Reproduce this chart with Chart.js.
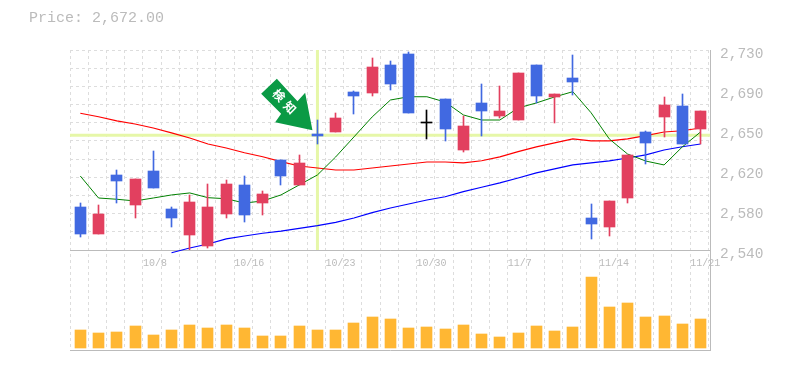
<!DOCTYPE html>
<html>
<head>
<meta charset="utf-8">
<style>html,body{margin:0;padding:0;background:#fff}#w{width:785px;height:370px;position:relative}</style>
<script src="https://cdn.jsdelivr.net/npm/chart.js@4"></script>
</head>
<body>
<div id="w"><canvas id="c" width="785" height="370"></canvas></div>
<script>
const priceText = 'Price: 2,672.00';
const markerText = ['検', '知'];
const markerIndex = 13;
const markerPrice = 2649;

const categories = ['','','','','10/8','','','','','10/16','','','','','10/23','','','','','10/30','','','','','11/7','','','','','11/14','','','','','11/21'];
const opens  = [2580.9,2555.2,2611.3,2582.8,2615,2579,2554.3,2543.8,2574.2,2601.8,2584.6,2625.5,2601.8,2650.2,2652.1,2690.1,2689.2,2715.8,2726.2,2660.4,2683.5,2635,2679.7,2667.3,2663.5,2715.8,2685.4,2703.4,2570.4,2561.9,2589.4,2652.1,2666.4,2676.8,2655];
const highs  = [2584.6,2582.8,2616,2607.5,2634,2580.9,2592.3,2602.7,2606.5,2610.3,2596,2625.5,2630.3,2663.5,2670.2,2691,2722.4,2719.6,2728.1,2673,2683.5,2667.3,2697.7,2695.8,2708.2,2715.8,2688.2,2725.3,2583.7,2586.6,2630.3,2653,2685.4,2688.2,2672];
const lows   = [2552.6,2555.2,2585,2570.4,2598.9,2561.9,2540,2541.9,2570.4,2566.6,2573.3,2601.8,2601.8,2640.7,2652.1,2669.2,2686.3,2692,2670.2,2645.5,2643.6,2633.1,2648.3,2665.4,2663.5,2679.7,2660.6,2687.3,2550.5,2553.3,2584.6,2621.7,2647.4,2640.7,2640.7];
const closes = [2555.2,2574.2,2605.6,2607.5,2598.9,2570.4,2585.6,2580.9,2602.7,2573.3,2593.2,2610.3,2622.7,2648.3,2665.4,2686.3,2713.9,2697.7,2670.2,2660.4,2655,2657.8,2672,2672,2708.2,2686.3,2688.2,2699.6,2564.7,2586.6,2630.3,2641.6,2677.8,2640.7,2672];
const maShort = [2610.3,2589.4,2588.2,2586.6,2589.4,2592.3,2594.2,2589.7,2588.7,2584.6,2586.6,2592.3,2601.8,2611.3,2628.4,2647.4,2666.4,2682.5,2685.6,2685.6,2680.6,2668.3,2663.5,2663.5,2674.9,2679.7,2685.4,2690.4,2670.4,2645.5,2631.2,2624.5,2620.8,2637.9,2652.1];
const maMid = [2669.9,2666.6,2662.6,2659.7,2655.9,2651.2,2646.4,2640.7,2636.9,2632.4,2628.6,2623.9,2619.8,2617.9,2616,2616,2617.9,2619.8,2621.7,2623.6,2623.6,2622.7,2624.8,2628.4,2633.4,2637.9,2641.7,2645.5,2643.6,2643.6,2645.5,2648.6,2652.1,2653.3,2655.9];
const maLong = [null,null,null,null,null,2537.4,2541.9,2545.7,2550.5,2553.3,2555.9,2558,2560.6,2563.1,2566.3,2570.4,2575.5,2579.9,2583.7,2587.5,2590.6,2595.4,2599.6,2603.7,2608.4,2613.2,2617,2620.8,2622.7,2624.6,2627.4,2630.3,2635,2638.1,2640.7];
const volumes = [18,15,16,22,13,18,23,20,23,20,12,12,22,18,18,25,31,29,20,21,19,23,14,11,15,22,17,21,71,41,45,31,32,24,29];
const yLabelValues = [2540,2578,2616,2654,2692,2730];
const yLabelTexts = ['2,540','2,580','2,620','2,650','2,690','2,730'];
const yGridValues = [2540,2557.27,2574.55,2591.82,2609.09,2626.36,2643.64,2660.91,2678.18,2695.45,2712.73,2730];

const X_MIN = -0.565, X_MAX = 34.52;
const MONO = '"Liberation Mono", monospace';
const GRID = '#dddddd', AXIS = '#bbbbbb', TEXT = '#bbbbbb';
const UP = '#e2405f', DOWN = '#4169e1', FLAT = '#000000', HILITE = '#e6f7a8';

const candleColor = i => closes[i] > opens[i] ? UP : closes[i] < opens[i] ? DOWN : FLAT;
const idx = categories.map((_, i) => i);
const series = a => a.map((v, i) => ({x: i, y: v}));

const extras = {
  id: 'extras',
  afterDatasetsUpdate(chart) {
    chart.data.datasets.forEach((d, di) => {
      if (d.type !== 'bar') return;
      chart.getDatasetMeta(di).data.forEach(el => {
        const w = el.width;
        el.x = Math.round(el.x - w / 2) + w / 2;
        const a = Math.round(el.y), b = Math.round(el.base);
        el.y = a;
        el.base = (a === b) ? b + 1 : b;
        el.height = el.base - el.y;
      });
    });
  },
  afterDraw(chart) {
    const ctx = chart.ctx;
    ctx.save();
    ctx.fillStyle = TEXT;
    ctx.font = '15px ' + MONO;
    ctx.textBaseline = 'middle';
    ctx.textAlign = 'left';
    ctx.fillText(priceText, 29, 18);
    const ax = chart.scales.x.getPixelForValue(markerIndex) - 5;
    const ay = chart.scales.y.getPixelForValue(markerPrice) - 5;
    ctx.translate(ax, ay);
    ctx.fillStyle = '#0a9a45';
    ctx.beginPath();
    [[-35.6,-51.4],[-51.3,-36.4],[-31.3,-16.4],[-37.3,-8],[0,0],[-7.3,-37.4],[-15,-29]]
      .forEach((p, i) => i ? ctx.lineTo(p[0], p[1]) : ctx.moveTo(p[0], p[1]));
    ctx.closePath();
    ctx.fill();
    ctx.fillStyle = '#fff';
    ctx.font = 'bold 12px "Noto Sans CJK JP"';
    ctx.textAlign = 'center';
    [[-33.5,-35],[-22.5,-22.7]].forEach((p, i) => {
      ctx.save();
      ctx.translate(p[0], p[1]);
      ctx.rotate(Math.PI / 4);
      ctx.fillText(markerText[i], 0, 0);
      ctx.restore();
    });
    ctx.restore();
  }
};

new Chart(document.getElementById('c'), {
  type: 'bar',
  plugins: [extras],
  data: {
    datasets: [
      {type:'line', data:[{x:X_MIN,y:markerPrice},{x:X_MAX,y:markerPrice}], borderColor:HILITE, borderWidth:3, pointRadius:0, order:9, yAxisID:'y'},
      {type:'line', data:[{x:markerIndex,y:2540},{x:markerIndex,y:2730}], borderColor:HILITE, borderWidth:3, pointRadius:0, order:9, yAxisID:'y'},
      {type:'line', label:'long', data:series(maLong), borderColor:'#0000ff', borderWidth:1.2, pointRadius:0, tension:0, order:7, yAxisID:'y', clip:false},
      {type:'line', label:'mid', data:series(maMid), borderColor:'#ff0000', borderWidth:1.2, pointRadius:0, tension:0, order:6, yAxisID:'y'},
      {type:'line', label:'short', data:series(maShort), borderColor:'#008000', borderWidth:1, pointRadius:0, tension:0, order:5, yAxisID:'y'},
      {type:'bar', label:'wick', data:idx.map(i => ({x:i, y:[lows[i], highs[i]]})), backgroundColor:idx.map(candleColor), barThickness:1, grouped:false, order:3, yAxisID:'y'},
      {type:'bar', label:'body', data:idx.map(i => ({x:i, y:[opens[i], closes[i]]})), backgroundColor:idx.map(candleColor), barThickness:11, minBarLength:1, grouped:false, order:2, yAxisID:'y'},
      {type:'bar', label:'volume', data:series(volumes), backgroundColor:'#ffb733', barThickness:11, grouped:false, order:1, yAxisID:'y2'}
    ]
  },
  options: {
    responsive:false, animation:false,
    layout:{padding:{left:70, top:50, right:0, bottom:20}},
    plugins:{legend:{display:false}, title:{display:false}, tooltip:{enabled:false}},
    scales:{
      x:{
        type:'linear', offset:false, position:{y2:98}, min:X_MIN, max:X_MAX,
        afterBuildTicks(s){ s.ticks = [...idx, 35].map(i => ({value:X_MIN + i})); },
        grid:{offset:false, color:GRID, lineWidth:1, drawTicks:false, tickLength:0},
        border:{color:AXIS, width:1, dash:[3,3], display:false},
        ticks:{autoSkip:false, maxRotation:0, minRotation:0, align:'start', padding:7, color:TEXT, font:{family:MONO, size:10},
          callback:(v, i) => categories[i] || ''}
      },
      xTop:{
        type:'linear', position:{y:2540}, min:0, max:1, display:true,
        grid:{display:false, drawTicks:false}, ticks:{display:false}, border:{display:true, color:AXIS, width:1}
      },
      xBottom:{
        type:'linear', position:'bottom', min:0, max:1, display:true,
        grid:{display:false, drawTicks:false}, ticks:{display:false}, border:{display:true, color:AXIS, width:1}
      },
      y:{
        type:'linear', position:'right', stack:'p', stackWeight:2, min:2540, max:2730,
        afterFit(s){ s.width = 75; },
        afterBuildTicks(s){
          const all = [...new Set([...yGridValues, ...yLabelValues])].sort((a,b) => a-b);
          s.ticks = all.map(v => ({value:v}));
        },
        grid:{color:c => (c.tick && yGridValues.includes(c.tick.value)) ? GRID : 'rgba(0,0,0,0)', lineWidth:1, drawTicks:false, tickLength:0},
        border:{color:AXIS, width:1, dash:[3,3]},
        ticks:{autoSkip:false, padding:10, labelOffset:4, crossAlign:'near', color:TEXT, font:{family:MONO, size:14.5},
          callback:v => { const k = yLabelValues.indexOf(v); return k >= 0 ? yLabelTexts[k] : ''; }}
      },
      y2:{
        type:'linear', position:'right', stack:'p', stackWeight:1, min:-2, max:98,
        afterFit(s){ s.width = 75; },
        grid:{display:false, drawTicks:false}, border:{color:AXIS, width:1},
        ticks:{display:false}
      }
    }
  }
});
</script>
</body>
</html>
